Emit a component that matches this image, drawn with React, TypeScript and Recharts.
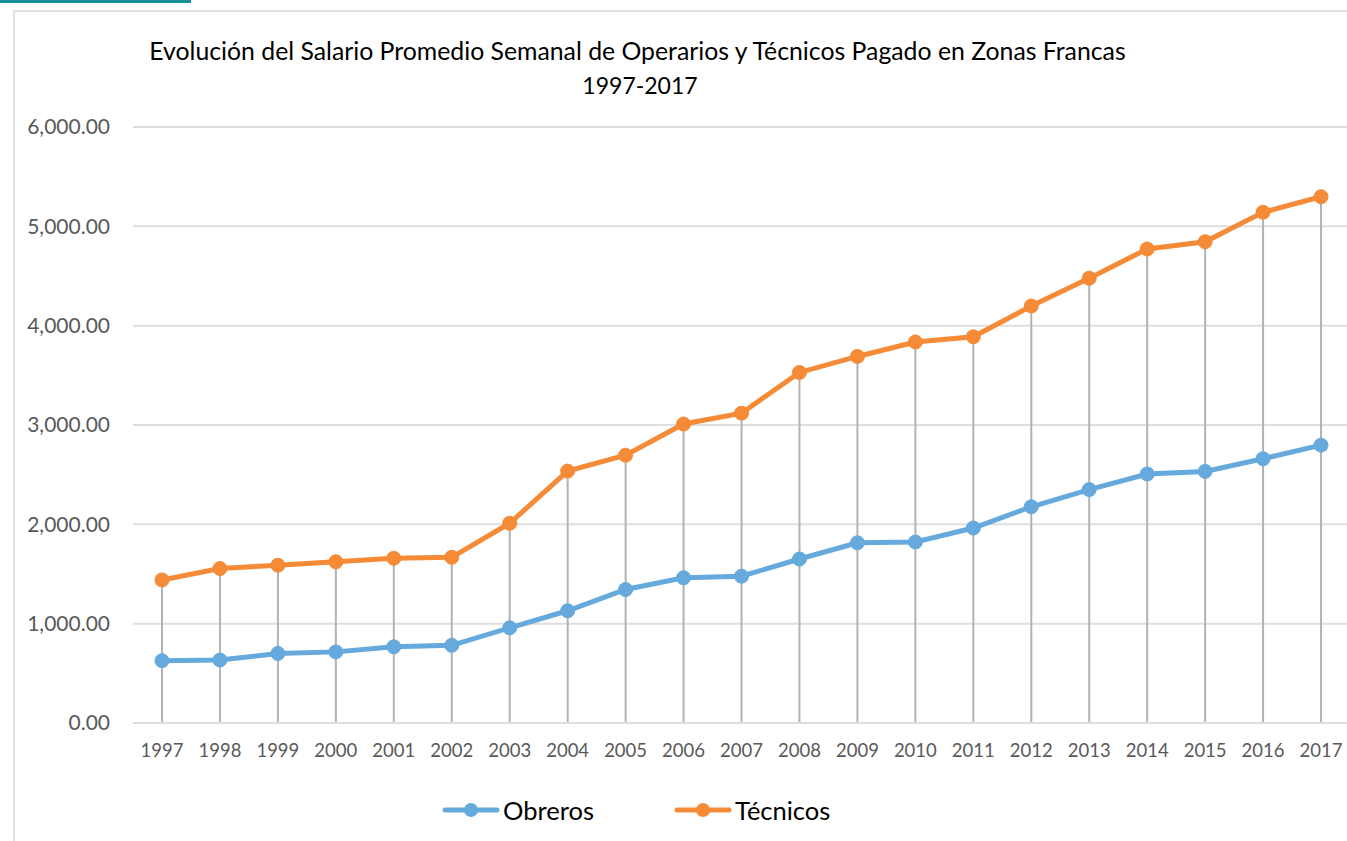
import React from "react";
import {
  ComposedChart,
  Line,
  Bar,
  XAxis,
  YAxis,
  CartesianGrid,
  Legend,
} from "recharts";

const years = [
  "1997", "1998", "1999", "2000", "2001", "2002", "2003", "2004", "2005", "2006", "2007",
  "2008", "2009", "2010", "2011", "2012", "2013", "2014", "2015", "2016", "2017",
];
const obreros = [
  627, 634, 700, 716, 767, 782, 958, 1130, 1344, 1462, 1478,
  1651, 1814, 1822, 1963, 2177, 2350, 2507, 2533, 2660, 2797,
];
const tecnicos = [
  1440, 1555, 1588, 1623, 1658, 1668, 2011, 2536, 2696, 3010, 3119,
  3529, 3690, 3836, 3888, 4198, 4478, 4772, 4845, 5142, 5298,
];
const yTicks = [0, 1000, 2000, 3000, 4000, 5000, 6000];

const title1 = "Evolución del Salario Promedio Semanal de Operarios y Técnicos Pagado en Zonas Francas";
const title2 = "1997-2017";

const BLUE = "#65a9dd";
const ORANGE = "#f58b37";
const FONT = "Lato, 'Open Sans', sans-serif";

const data = years.map((y, i) => ({
  year: y,
  Obreros: obreros[i],
  Técnicos: tecnicos[i],
}));

const fmt = (v: number) =>
  v.toLocaleString("en-US", { minimumFractionDigits: 2, maximumFractionDigits: 2 });

function LegendContent() {
  const items = [
    { name: "Obreros", color: BLUE },
    { name: "Técnicos", color: ORANGE },
  ];
  return (
    <div style={{ display: "flex", justifyContent: "flex-start", paddingLeft: 442, gap: 80 }}>
      {items.map((it) => (
        <div key={it.name} style={{ display: "flex", alignItems: "center" }}>
          <svg width={58} height={20}>
            <line x1={3} y1={10} x2={55} y2={10} stroke={it.color} strokeWidth={5} strokeLinecap="round" />
            <circle cx={29} cy={10} r={7} fill={it.color} />
          </svg>
          <span style={{ fontFamily: FONT, fontSize: 25.5, color: "#000", marginLeft: 3 }}>{it.name}</span>
        </div>
      ))}
    </div>
  );
}

export default function App() {
  return (
    <div
      style={{
        position: "absolute",
        left: 0,
        top: 0,
        width: 1347,
        height: 841,
        overflow: "hidden",
        background: "#fff",
      }}
    >
      <div style={{ position: "absolute", left: 0, top: 0, width: 191, height: 3, background: "#17909b" }} />
      <div
        style={{
          position: "absolute",
          left: 13,
          top: 10,
          width: 1400,
          height: 900,
          border: "2px solid #e0e0e0",
        }}
      />
      <div
        style={{
          position: "absolute",
          left: 0,
          top: 34,
          width: 1275,
          textAlign: "center",
          fontFamily: FONT,
          fontSize: 24.8,
          color: "#000",
          lineHeight: "34px",
        }}
      >
        <div>{title1}</div>
        <div style={{ fontSize: 23, paddingLeft: 5 }}>{title2}</div>
      </div>
      <div style={{ position: "absolute", left: 0, top: 0 }}>
        <ComposedChart
          width={1350}
          height={841}
          data={data}
          margin={{ top: 127, right: 0, left: 0, bottom: 16 }}
        >
          <CartesianGrid vertical={false} stroke="#dedede" strokeWidth={2} />
          <XAxis
            dataKey="year"
            axisLine={{ stroke: "#dedede", strokeWidth: 2 }}
            tickLine={false}
            tickSize={0}
            tickMargin={21}
            height={72}
            interval={0}
            tick={{ fill: "#595959", fontSize: 18.5, fontFamily: FONT }}
          />
          <YAxis
            domain={[0, 6000]}
            ticks={yTicks}
            axisLine={false}
            tickLine={false}
            tickSize={0}
            tickMargin={23}
            width={133}
            tickFormatter={fmt}
            tick={{ fill: "#595959", fontSize: 21, fontFamily: FONT }}
          />
          <Bar dataKey="Técnicos" barSize={2} fill="#b0b3b6" isAnimationActive={false} legendType="none" />
          <Line
            type="linear"
            dataKey="Obreros"
            stroke={BLUE}
            strokeWidth={5}
            dot={{ r: 7, fill: BLUE, stroke: BLUE, strokeWidth: 1 }}
            isAnimationActive={false}
          />
          <Line
            type="linear"
            dataKey="Técnicos"
            stroke={ORANGE}
            strokeWidth={5}
            dot={{ r: 7, fill: ORANGE, stroke: ORANGE, strokeWidth: 1 }}
            isAnimationActive={false}
          />
          <Legend verticalAlign="bottom" height={30} content={<LegendContent />} />
        </ComposedChart>
      </div>
    </div>
  );
}
